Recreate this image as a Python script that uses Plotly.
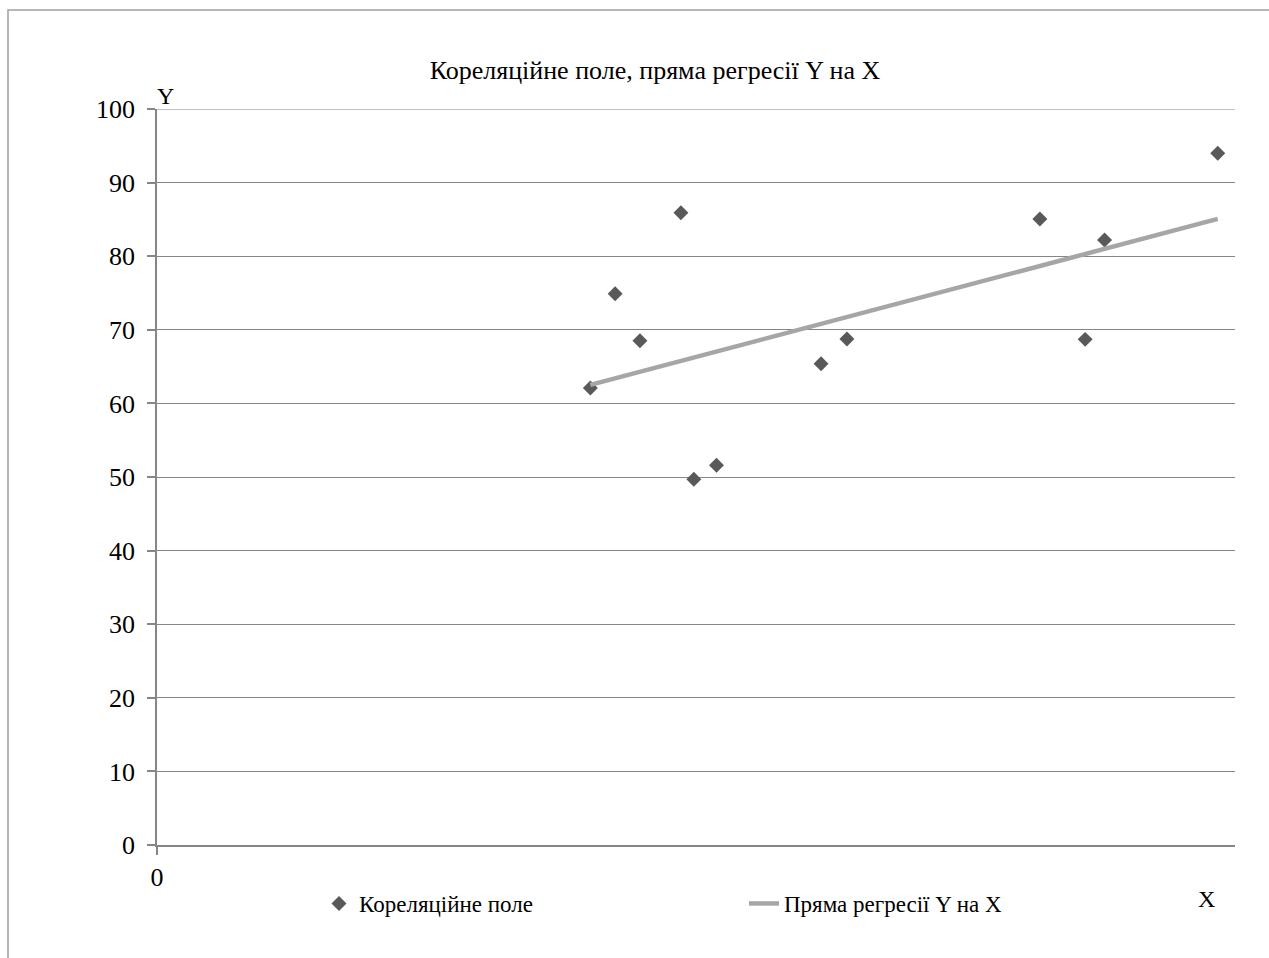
import numpy as np
import plotly.graph_objects as go

# Observed pairs (X, Y)
x_vals = [40.2, 42.5, 44.8, 48.6, 49.8, 51.9, 61.6, 64.0, 81.9, 86.1, 87.9, 98.4]
y_vals = [62.1, 74.9, 68.5, 85.9, 49.7, 51.6, 65.4, 68.75, 85.05, 68.7, 82.2, 94.0]

y_ticks = [0, 10, 20, 30, 40, 50, 60, 70, 80, 90, 100]

title_text = "Кореляційне поле, пряма регресії Y на X"
scatter_name = "Кореляційне поле"
line_name = "Пряма регресії Y на X"

# Least-squares regression of Y on X
slope, intercept = np.polyfit(x_vals, y_vals, 1)
x_line = [min(x_vals), max(x_vals)]
y_line = [slope * v + intercept for v in x_line]

FONT = "Liberation Serif"
GRID = "#868686"

fig = go.Figure()
fig.add_trace(go.Scatter(
    x=x_vals, y=y_vals, mode="markers", name=scatter_name,
    marker=dict(symbol="diamond", size=11.5, color="#595959"),
))
fig.add_trace(go.Scatter(
    x=x_line, y=y_line, mode="lines", name=line_name,
    line=dict(color="#a6a6a6", width=4.5),
))

W, H = 1269, 958
L, R, T, B = 157, 34, 109, 113
pw, ph = W - L - R, H - T - B


def px_to_paper_x(px):
    return (px - L) / pw


def px_to_paper_y(py):
    return (H - B - py) / ph


fig.update_layout(
    width=W, height=H,
    margin=dict(l=L, r=R, t=T, b=B),
    paper_bgcolor="white", plot_bgcolor="white",
    font=dict(family=FONT, size=26, color="black"),
    title=dict(text=title_text, font=dict(family=FONT, size=26),
               x=px_to_paper_x(655), xref="paper", xanchor="center",
               y=1 - 70 / H, yref="container", yanchor="middle"),
    showlegend=True,
    legend=dict(orientation="h", x=px_to_paper_x(319), xanchor="left",
                y=px_to_paper_y(882), yanchor="top",
                font=dict(family=FONT, size=23),
                entrywidth=380, bgcolor="rgba(0,0,0,0)"),
    xaxis=dict(range=[0, 100], showgrid=False, zeroline=False,
               showline=True, linecolor=GRID, linewidth=1.5,
               tickvals=[0], ticktext=["0"],
               ticks="outside", ticklen=8, tickcolor=GRID, tickwidth=1.5,
               tickfont=dict(family=FONT, size=26)),
    yaxis=dict(range=[0, 100], tickvals=y_ticks, showgrid=True,
               gridcolor=GRID, gridwidth=1.2, zeroline=False,
               showline=True, linecolor=GRID, linewidth=1.5,
               ticks="outside", ticklen=8, tickcolor=GRID, tickwidth=1.5,
               ticklabelstandoff=7,
               tickfont=dict(family=FONT, size=26)),
    annotations=[
        dict(text="Y", x=px_to_paper_x(165), y=px_to_paper_y(96),
             xref="paper", yref="paper", showarrow=False,
             xanchor="center", yanchor="middle",
             font=dict(family=FONT, size=24)),
        dict(text="X", x=px_to_paper_x(1206), y=px_to_paper_y(899),
             xref="paper", yref="paper", showarrow=False,
             xanchor="center", yanchor="middle",
             font=dict(family=FONT, size=24)),
    ],
    shapes=[
        # top grid line at Y = 100
        dict(type="line", xref="paper", yref="y", x0=0, x1=1, y0=100, y1=100,
             line=dict(color=GRID, width=1.2), layer="below"),
        # chart-area frame
        dict(type="rect", xref="paper", yref="paper",
             x0=px_to_paper_x(8), x1=px_to_paper_x(1290),
             y0=px_to_paper_y(980), y1=px_to_paper_y(10),
             line=dict(color="#a0a0a0", width=1.5), layer="below"),
    ],
)

fig.write_html("out.html")
